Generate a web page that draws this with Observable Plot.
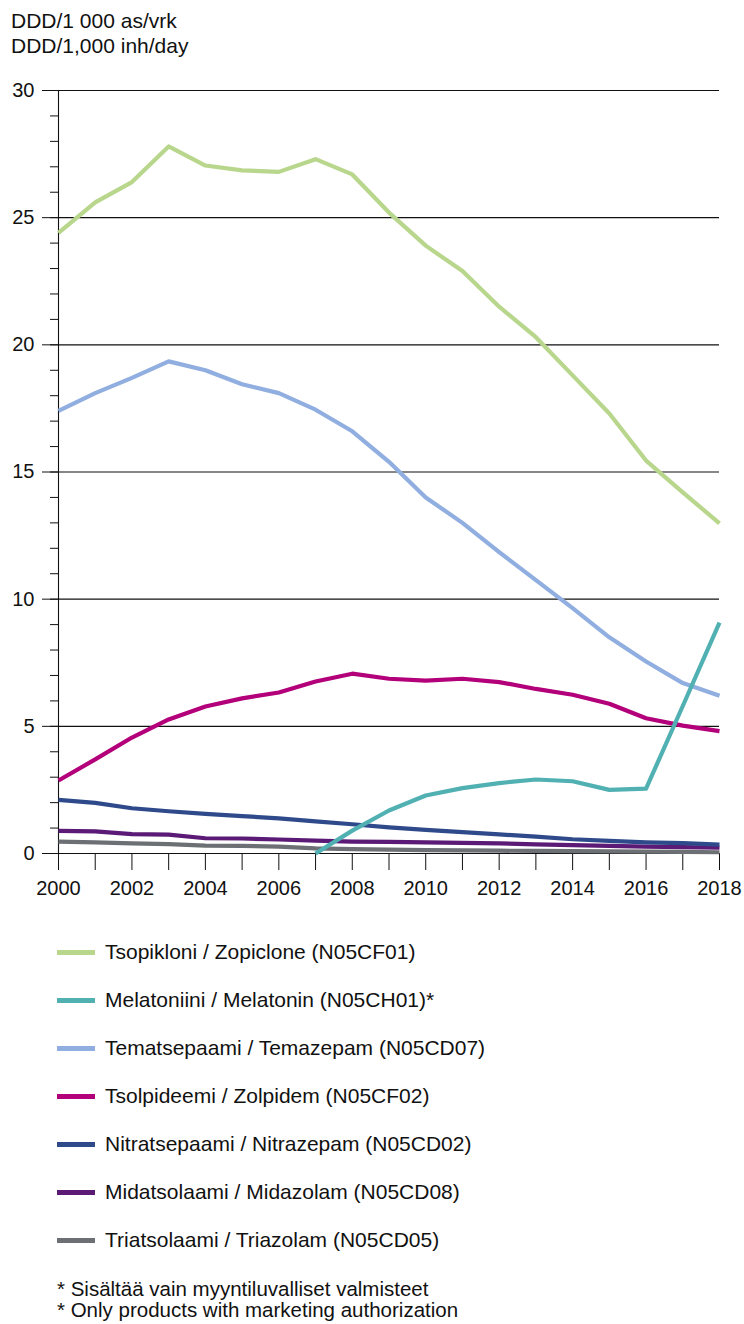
<!DOCTYPE html>
<html>
<head>
<meta charset="utf-8">
<script src="https://cdn.jsdelivr.net/npm/d3@7"></script>
<script src="https://cdn.jsdelivr.net/npm/@observablehq/plot@0.6"></script>
<style>
  body { margin: 0; background: #fff; font-family: "Liberation Sans", Arial, sans-serif; color: #111; }
  #wrap { position: relative; width: 744px; height: 1324px; overflow: hidden; }
  .unit { position: absolute; left: 11px; font-size: 21px; line-height: 25px; }
  #chart { position: absolute; left: 0; top: 60px; }
  #legend { position: absolute; left: 57px; top: 928px; }
  .row { height: 48px; display: flex; align-items: center; font-size: 21px; }
  .sw { width: 38px; height: 5px; margin-right: 10px; }
  #note { position: absolute; left: 57px; top: 1278px; font-size: 20.5px; line-height: 21px; }
</style>
</head>
<body>
<div id="wrap">
  <div class="unit" style="top:8px">DDD/1 000 as/vrk<br>DDD/1,000 inh/day</div>
  <div id="chart"></div>
  <div id="legend"></div>
  <div id="note">* Sisältää vain myyntiluvalliset valmisteet<br>* Only products with marketing authorization</div>
</div>
<script>
const years = [2000,2001,2002,2003,2004,2005,2006,2007,2008,2009,2010,2011,2012,2013,2014,2015,2016,2017,2018];
const seriesNames = [
  "Tsopikloni / Zopiclone (N05CF01)",
  "Melatoniini / Melatonin (N05CH01)*",
  "Tematsepaami / Temazepam (N05CD07)",
  "Tsolpideemi / Zolpidem (N05CF02)",
  "Nitratsepaami / Nitrazepam (N05CD02)",
  "Midatsolaami / Midazolam (N05CD08)",
  "Triatsolaami / Triazolam (N05CD05)"
];
const seriesColors = ["#b8d68c", "#50b0b2", "#90aedf", "#b3007a", "#2f4a8b", "#5b1a76", "#6c6f74"];
const zopiclone  = [24.4,25.6,26.4,27.8,27.05,26.86,26.8,27.3,26.7,25.2,23.9,22.9,21.5,20.3,18.8,17.3,15.45,14.2,12.98];
const melatonin  = [null,null,null,null,null,null,null,0.0,0.9,1.69,2.28,2.57,2.77,2.91,2.84,2.5,2.55,5.8,9.08];
const temazepam  = [17.4,18.1,18.7,19.35,19.0,18.45,18.1,17.45,16.6,15.4,14.0,13.0,11.85,10.75,9.65,8.5,7.55,6.7,6.2];
const zolpidem   = [2.87,3.7,4.56,5.27,5.78,6.1,6.33,6.76,7.07,6.87,6.8,6.87,6.74,6.47,6.24,5.89,5.32,5.03,4.81];
const nitrazepam = [2.11,1.99,1.78,1.66,1.56,1.47,1.38,1.26,1.15,1.03,0.93,0.84,0.75,0.66,0.56,0.5,0.44,0.41,0.35];
const midazolam  = [0.89,0.87,0.76,0.74,0.6,0.59,0.55,0.51,0.47,0.46,0.44,0.42,0.4,0.36,0.33,0.3,0.27,0.25,0.23];
const triazolam  = [0.47,0.44,0.4,0.37,0.31,0.3,0.27,0.2,0.17,0.15,0.13,0.12,0.11,0.1,0.09,0.08,0.07,0.06,0.05];
const yTicks = [0,5,10,15,20,25,30];

const seriesValues = [zopiclone, melatonin, temazepam, zolpidem, nitrazepam, midazolam, triazolam];
const drawOrder = [6,5,4,3,2,0,1];
const data = [];
for (const i of drawOrder) {
  years.forEach((yr, j) => {
    const v = seriesValues[i][j];
    if (v != null) data.push({year: yr, value: v, series: seriesNames[i]});
  });
}

const chart = Plot.plot({
  width: 744,
  height: 843,
  marginLeft: 58,
  marginRight: 25,
  marginTop: 30,
  marginBottom: 50,
  style: {fontFamily: "Liberation Sans, Arial, sans-serif", fontSize: "20px", color: "#111", background: "transparent"},
  x: {domain: [2000, 2018], label: null},
  y: {domain: [0, 30], label: null},
  color: {domain: seriesNames, range: seriesColors},
  marks: [
    Plot.ruleY(yTicks, {stroke: "#111", strokeWidth: 1.1}),
    Plot.axisY(d3.range(0, 31, 1), {tickSize: 8, tickFormat: () => "", stroke: "#111", strokeOpacity: 1, label: null}),
    Plot.axisY(yTicks, {tickSize: 16, tickPadding: 8, stroke: "#111", strokeOpacity: 1, fontSize: 20, fill: "#111", label: null}),
    Plot.ruleX([2000], {stroke: "#111", strokeWidth: 1.1}),
    Plot.axisX(years, {tickSize: 17, tickPadding: 10, stroke: "#111", strokeOpacity: 1, fontSize: 20, fill: "#111", label: null,
      tickFormat: d => d % 2 === 0 ? String(d) : ""}),
    Plot.line(data, {x: "year", y: "value", z: "series", stroke: "series", strokeWidth: 4.2, strokeLinejoin: "round", strokeLinecap: "butt"})
  ]
});
document.getElementById("chart").appendChild(chart);

const legend = document.getElementById("legend");
seriesNames.forEach((name, i) => {
  const row = document.createElement("div");
  row.className = "row";
  const sw = document.createElement("div");
  sw.className = "sw";
  sw.style.background = seriesColors[i];
  const t = document.createElement("span");
  t.textContent = name;
  row.appendChild(sw);
  row.appendChild(t);
  legend.appendChild(row);
});
</script>
</body>
</html>
